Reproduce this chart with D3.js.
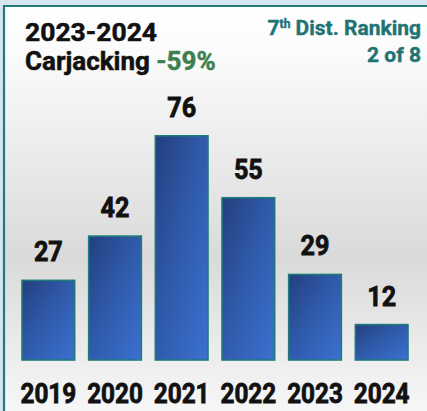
<!DOCTYPE html>
<html>
<head>
<meta charset="utf-8">
<script src="https://cdn.jsdelivr.net/npm/d3@7/dist/d3.min.js"></script>
<style>
  html, body { margin: 0; padding: 0; background: #d7e5ef; }
  svg { display: block; }
  text { font-family: Roboto, "Noto Sans", sans-serif; font-weight: 700; }
</style>
</head>
<body>
<svg id="chart" width="427" height="411"></svg>
<script>
// Carjacking counts by year
const years = ["2019", "2020", "2021", "2022", "2023", "2024"];
const counts = [27, 42, 76, 55, 29, 12];

const titleLine1 = "2023-2024";
const titleLine2 = "Carjacking";
const changeText = "-59%";
const rankLine1 = "Dist. Ranking";
const rankLine2 = "2 of 8";

const W = 427, H = 411;
const svg = d3.select("#chart");
const defs = svg.append("defs");

// Panel background: white at the top, fading to grey, lighter again at the bottom
const bg = defs.append("linearGradient").attr("id", "panelBg")
  .attr("x1", 0).attr("y1", 0).attr("x2", 0).attr("y2", 1);
bg.append("stop").attr("offset", "0%").attr("stop-color", "#ffffff");
bg.append("stop").attr("offset", "12%").attr("stop-color", "#fbfbfb");
bg.append("stop").attr("offset", "62%").attr("stop-color", "#dadada");
bg.append("stop").attr("offset", "100%").attr("stop-color", "#f7f7f7");

// Bar fill: navy top-left to brighter blue bottom-right
const barGrad = defs.append("linearGradient").attr("id", "barFill")
  .attr("x1", 0).attr("y1", 0).attr("x2", 1).attr("y2", 1);
barGrad.append("stop").attr("offset", "0%").attr("stop-color", "#233f7e");
barGrad.append("stop").attr("offset", "45%").attr("stop-color", "#2f59a8");
barGrad.append("stop").attr("offset", "100%").attr("stop-color", "#3b70d2");

// Panel with teal border on the top and left
svg.append("rect").attr("x", 4).attr("y", 6).attr("width", W - 4).attr("height", H - 6)
  .attr("fill", "url(#panelBg)");
svg.append("path")
  .attr("d", `M4,${H} L4,6 L${W},6`)
  .attr("fill", "none").attr("stroke", "#217b7d").attr("stroke-width", 2.2);

// Scales
const x = d3.scaleBand().domain(years).range([15, 415]).paddingInner(0.21).paddingOuter(0.105);
const y = d3.scaleLinear().domain([0, 80]).range([360, 124]);

const data = years.map((yr, i) => ({ year: yr, value: counts[i] }));

// Bars
svg.append("g").selectAll("rect").data(data).join("rect")
  .attr("x", d => x(d.year))
  .attr("y", d => y(d.value))
  .attr("width", x.bandwidth())
  .attr("height", d => y(0) - y(d.value))
  .attr("fill", "url(#barFill)")
  .attr("stroke", "#1f7b7b")
  .attr("stroke-width", 1.6);

// Value labels above bars (condensed, heavy)
svg.append("g").selectAll("text").data(data).join("text")
  .attr("transform", d => `translate(${x(d.year) + x.bandwidth() / 2},${y(d.value) - 19}) scale(0.9,1)`)
  .attr("text-anchor", "middle")
  .attr("font-size", 28)
  .attr("fill", "#111")
  .attr("stroke", "#111").attr("stroke-width", 0.8)
  .text(d => d.value);

// Year axis labels
const xAxis = d3.axisBottom(x).tickSize(0).tickPadding(0);
const axisG = svg.append("g").attr("transform", "translate(0,403)").call(xAxis);
axisG.select(".domain").remove();
axisG.selectAll("text")
  .attr("y", 0).attr("dy", 0).attr("x", 0)
  .attr("font-size", 27)
  .attr("font-family", "Roboto, sans-serif")
  .attr("font-weight", 700)
  .attr("fill", "#111")
  .attr("stroke", "#111").attr("stroke-width", 0.8)
  .attr("transform", "scale(0.9,1)");

// Title block
svg.append("text").attr("x", 25).attr("y", 41)
  .attr("font-size", 26.5).attr("fill", "#111")
  .attr("stroke", "#111").attr("stroke-width", 0.5).text(titleLine1);
const t2 = svg.append("text").attr("x", 25).attr("y", 70)
  .attr("font-size", 26).attr("fill", "#111")
  .attr("stroke", "#111").attr("stroke-width", 0.5);
t2.append("tspan").text(titleLine2 + " ");
t2.append("tspan").attr("fill", "#3d7f4f").attr("stroke", "#3d7f4f").text(changeText);

// Ranking block (right aligned)
const r1 = svg.append("text").attr("x", 421).attr("y", 35)
  .attr("text-anchor", "end").attr("font-size", 21).attr("fill", "#1f7373")
  .attr("stroke", "#1f7373").attr("stroke-width", 0.4);
r1.append("tspan").text("7");
r1.append("tspan").attr("font-size", 12).attr("dy", -7).text("th");
r1.append("tspan").attr("dy", 7).text(" " + rankLine1);
svg.append("text").attr("x", 421).attr("y", 62)
  .attr("text-anchor", "end").attr("font-size", 21).attr("fill", "#1f7373")
  .attr("stroke", "#1f7373").attr("stroke-width", 0.4).text(rankLine2);
</script>
</body>
</html>
